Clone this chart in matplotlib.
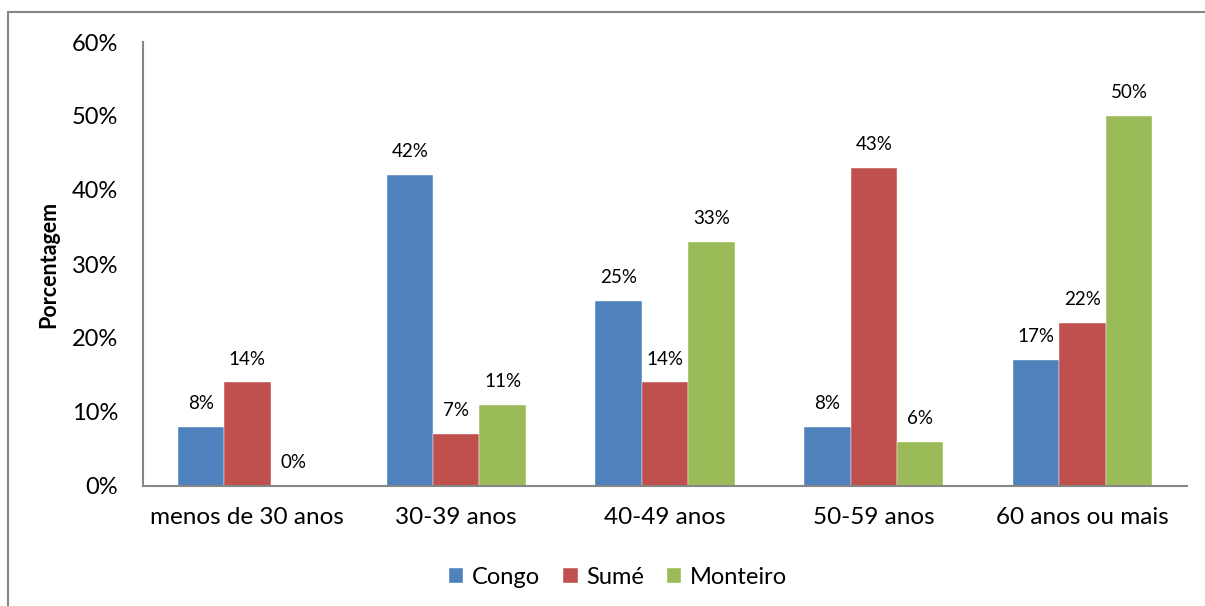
import matplotlib.pyplot as plt
import numpy as np
from matplotlib.patches import Rectangle

categories = ['menos de 30 anos', '30-39 anos', '40-49 anos', '50-59 anos', '60 anos ou mais']
series = ['Congo', 'Sumé', 'Monteiro']
congo = [8, 42, 25, 8, 17]
sume = [14, 7, 14, 43, 22]
monteiro = [0, 11, 33, 6, 50]
colors = ['#4F81BD', '#C0504D', '#9BBB59']

plt.rcParams['font.family'] = ['Lato', 'DejaVu Sans']

fig = plt.figure(figsize=(12.05, 6.06), dpi=100)
ax = fig.add_axes([143 / 1205, 1 - 486 / 606, 1044 / 1205, 444 / 606])

# outer chart border (Excel style)
fig.patches.append(Rectangle((8 / 1205, -0.05), 1.1, 1 - 12 / 606 + 0.05,
                             transform=fig.transFigure, fill=False,
                             edgecolor='#868686', linewidth=1.5))

x = np.arange(len(categories))
w = 1 / 4.5
for i, (name, vals) in enumerate(zip(series, [congo, sume, monteiro])):
    ax.bar(x + (i - 1) * w, vals, w, color=colors[i], label=name,
           edgecolor='white', linewidth=0.3)
    for xb, v in zip(x + (i - 1) * w, vals):
        ax.text(xb, v + 2.0, f'{v}%', ha='center', va='bottom', fontsize=13.5)

ax.set_xlim(-0.5, 4.5)
ax.set_ylim(0, 60)
ax.set_yticks(range(0, 61, 10))
ax.set_yticklabels([f'{t}%' for t in range(0, 61, 10)], fontsize=17)
ax.set_xticks(x)
ax.set_xticklabels(categories, fontsize=17.5)
ax.tick_params(axis='y', length=0, pad=18)
ax.tick_params(axis='x', length=0, pad=15)
for s in ['top', 'right']:
    ax.spines[s].set_visible(False)
for s in ['left', 'bottom']:
    ax.spines[s].set_color('#868686')
    ax.spines[s].set_linewidth(1.5)
ax.set_ylabel('Porcentagem', fontsize=15.5, fontweight='bold', labelpad=9)

fig.legend(loc='center', bbox_to_anchor=(618 / 1205, 1 - 577 / 606), ncol=3,
           frameon=False, fontsize=17, handlelength=0.6, handleheight=0.6,
           handletextpad=0.35, columnspacing=1.0)

fig.savefig('out.png', dpi=100)
